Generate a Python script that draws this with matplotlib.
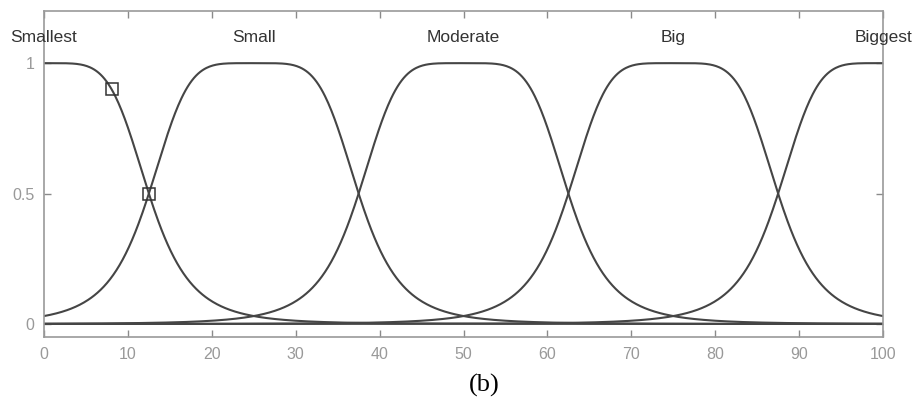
import matplotlib.pyplot as plt
import numpy as np

# membership functions (generalized bell)
mf_names = ['Smallest', 'Small', 'Moderate', 'Big', 'Biggest']
mf_centers = [0, 25, 50, 75, 100]
mf_width = 12.5
mf_slope = 2.5

# selected-point markers on the first curve
marker_x = [8.05, 12.5]
marker_y = [0.9, 0.5]

x_ticks = [0, 10, 20, 30, 40, 50, 60, 70, 80, 90, 100]
y_ticks = [0, 0.5, 1]
y_tick_labels = ['0', '0.5', '1']


def gbellmf(x, a, b, c):
    return 1.0 / (1.0 + np.abs((x - c) / a) ** (2 * b))


plt.rcParams['font.family'] = ['Liberation Sans', 'DejaVu Sans']

fig = plt.figure(figsize=(9.16, 4.03), dpi=100)
ax = fig.add_axes([44 / 916, 1 - 337 / 403, (883 - 44) / 916, (337 - 11) / 403])

xs = np.linspace(0, 100, 801)
line_col = '#454545'
for name, c in zip(mf_names, mf_centers):
    ax.plot(xs, gbellmf(xs, mf_width, mf_slope, c), color=line_col, lw=1.5)
    ax.text(c, 1.1, name, ha='center', va='center', fontsize=12.5,
            color='#333333', clip_on=False)

ax.plot(marker_x, marker_y, ls='none', marker='s', ms=8, mfc='none',
        mec='#333333', mew=1.1)

ax.set_xlim(0, 100)
ax.set_ylim(-0.05, 1.2)
ax.set_xticks(x_ticks)
ax.set_yticks(y_ticks)
ax.set_yticklabels(y_tick_labels)

frame_col = '#9a9a9a'
for s in ax.spines.values():
    s.set_color(frame_col)
    s.set_linewidth(1.2)
ax.tick_params(direction='in', top=True, right=True, length=5, width=1,
               color='#8a8a8a', labelcolor='#999999', labelsize=11.5, pad=7)

fig.text(484 / 916, 1 - 385 / 403, '(b)', ha='center', va='center',
         fontsize=19, family='Liberation Serif', color='black')

fig.savefig('out.png', dpi=100)
